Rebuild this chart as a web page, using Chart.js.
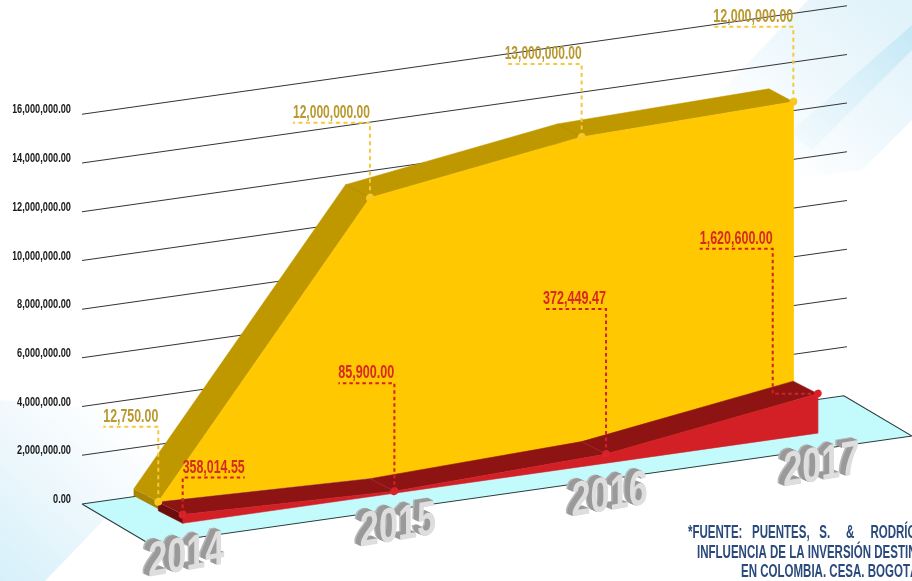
<!DOCTYPE html>
<html><head><meta charset="utf-8">
<style>html,body{margin:0;padding:0;background:#fff;overflow:hidden}canvas{display:block}</style>
<script src="https://cdn.jsdelivr.net/npm/chart.js@4"></script></head>
<body><canvas id="c" width="912" height="581"></canvas>
<script>
const years = [2014, 2015, 2016, 2017];
const yTicks = [0, 2000000, 4000000, 6000000, 8000000, 10000000, 12000000, 14000000, 16000000];
const yellowValues = [12750, 11260000, 12520000, 12730000];
const redValues = [358014.55, 85900, 372449.47, 1620600];
const yellowLabels = ['12,750.00', '12,000,000.00', '13,000,000.00', '12,000,000.00'];
const redLabels = ['358,014.55', '85,900.00', '372,449.47', '1,620,600.00'];
const footnote = ['*FUENTE:   PUENTES,   S.     &     RODRÍGUEZ', 'INFLUENCIA DE LA INVERSIÓN DESTINADA', 'EN COLOMBIA. CESA. BOGOTÁ'];

// Layout of the pseudo-3D drawing (pixels / depth planes)
const SHEAR = -0.142, ORIGIN_X = 82;
const FONT = '"Liberation Sans Narrow","Liberation Sans",sans-serif';
const PLANES = {
  yellowFront: {dx: 0, dv: -362500}, yellowBack: {dx: -0.1153, dv: 313000},
  redFront: {dx: 0.1153, dv: -1379600}, redBack: {dx: 0, dv: -724000}
};
const X_MIN = 2013.6396, X_MAX = 2017.5607, GRID_END = 2017.2532, FLOOR_END = 2017.2390, FLOOR_FRONT_L = 2013.9608, FLOOR_FRONT_R = 2017.5607, FLOOR_DEPTH = -2050000, Y_MIN = -3161000;
const yellowRise = [75, 75, 73, 75], yellowRun = [55, 77, 77, 80];
const redRise = [37, 108, 145, 145], redRun = [-62, 56, 63, 73], redElbow = [0, 0, 0, 45];
const yearFront = 28, yearDrop = 63.5;

const pts = (vals, p) => years.map((yr, i) => ({x: yr + p.dx, y: vals[i] + p.dv}));
const P = PLANES;
const yFront = pts(yellowValues, P.yellowFront), yBack = pts(yellowValues, P.yellowBack);
const rFront = pts(redValues, P.redFront), rBack = pts(redValues, P.redBack);
const poly = (pp, color, extra) => Object.assign({data: pp, fill: 'shape', backgroundColor: color, borderColor: color, borderWidth: 0.5, pointRadius: 0, clip: false}, extra || {});
const seg = (a, b, color) => ({data: [a, b], borderColor: color, borderWidth: 0.7, pointRadius: 0, fill: false, clip: false});
const capDrop = 287000;

const layers = [
  poly([{x: X_MIN, y: 0}, {x: FLOOR_END, y: 0}, {x: FLOOR_FRONT_R, y: FLOOR_DEPTH}, {x: FLOOR_FRONT_L, y: FLOOR_DEPTH}, {x: X_MIN, y: 0}], '#c3fbfd', {borderColor: '#2a3a3a', borderWidth: 1}),
  ...yTicks.slice(1).map(v => ({data: [{x: X_MIN, y: v}, {x: GRID_END, y: v}], borderColor: '#333', borderWidth: 1, pointRadius: 0, fill: false, clip: false})),
  poly([yFront[0], {x: yFront[0].x, y: yFront[0].y - capDrop}, {x: yBack[0].x, y: yBack[0].y - capDrop}, yBack[0]], '#a88400'),
  poly([...yFront, ...yBack.slice().reverse()], '#bf9800'),
  seg(yFront[1], yBack[1], '#ad8a00'), seg(yFront[2], yBack[2], '#ad8a00'),
  poly([...yFront, {x: 2017, y: -800000 + P.yellowFront.dv}, yFront[0]], '#ffc800'),
  poly([...rFront, ...rBack.slice().reverse()], '#8e1414'),
  seg(rFront[1], rBack[1], '#a53030'), seg(rFront[2], rBack[2], '#a53030'),
  poly([rFront[0], {x: rFront[0].x, y: P.redFront.dv}, {x: rBack[0].x, y: P.redBack.dv}, rBack[0]], '#6e0b0b'),
  poly([...rFront, {x: years[3] + P.redFront.dx, y: P.redFront.dv}, {x: years[0] + P.redFront.dx, y: P.redFront.dv}], '#d32027'),
  {data: yFront, borderWidth: 0, borderColor: 'transparent', showLine: false, pointRadius: 4, pointBackgroundColor: '#fbc61c', pointBorderWidth: 0, clip: false},
  {data: rFront, borderWidth: 0, borderColor: 'transparent', showLine: false, pointRadius: 4, pointBackgroundColor: '#d92229', pointBorderWidth: 0, clip: false}
];
layers.forEach((d, i) => { d.order = layers.length - i; });

function bandPoly(ctx, pp, fill) {
  ctx.beginPath(); pp.forEach((p, i) => i ? ctx.lineTo(p[0], p[1]) : ctx.moveTo(p[0], p[1])); ctx.closePath();
  ctx.fillStyle = fill; ctx.fill();
}
function lin(ctx, x0, y0, x1, y1, stops) {
  const g = ctx.createLinearGradient(x0, y0, x1, y1); stops.forEach(s => g.addColorStop(s[0], s[1])); return g;
}
function scaledText(ctx, str, x, y, font, color, sx, align) {
  ctx.save(); ctx.translate(x, y); ctx.scale(sx, 1); ctx.font = font; ctx.fillStyle = color; ctx.textAlign = align; ctx.textBaseline = 'middle';
  ctx.fillText(str, 0, 0); ctx.restore();
}
const scr = (chart, x, v) => { const px = chart.scales.x.getPixelForValue(x); return [px, chart.scales.y.getPixelForValue(v) + SHEAR * (px - ORIGIN_X)]; };

const look = {
  id: 'look',
  beforeDraw(chart) {
    const ctx = chart.ctx;
    ctx.save();
    bandPoly(ctx, [[0, 400], [0, 581], [45, 581], [195, 425], [120, 410]], lin(ctx, 0, 581, 135, 430, [[0, '#d6f0fa'], [0.55, '#eef8fc'], [1, '#ffffff']]));
    bandPoly(ctx, [[808, 0], [912, 0], [912, 120], [862, 170], [800, 178], [722, 90]], lin(ctx, 905, 10, 775, 160, [[0, '#e0f2fa'], [0.6, '#f0f9fd'], [1, '#ffffff']]));
    bandPoly(ctx, [[912, 25], [912, 50], [812, 150], [790, 132]], lin(ctx, 912, 35, 795, 145, [[0, '#c6e9f7'], [0.5, '#def2fa'], [1, '#f3fafd']]));
    ctx.restore();
    // tick labels of the y axis: condensed and lifted slightly off the line
    ctx.save(); ctx.translate(71, -4.5); ctx.scale(0.71, 1); ctx.translate(-82, 0);
  },
  beforeDatasetsDraw(chart) {
    const ctx = chart.ctx;
    ctx.restore();
    ctx.save(); ctx.transform(1, SHEAR, 0, 1, 0, -SHEAR * ORIGIN_X);
  },
  afterDatasetsDraw(chart) {
    const ctx = chart.ctx;
    ctx.restore();
    // callouts
    const callout = (front, labels, rise, run, elbow, color, dash, txt) => {
      front.forEach((p, i) => {
        const [px, py] = scr(chart, p.x, p.y);
        const vx = px - (elbow ? elbow[i] : 0), top = py - rise[i], end = vx - run[i];
        ctx.save(); ctx.strokeStyle = color; ctx.lineWidth = 2; ctx.setLineDash(dash);
        ctx.beginPath(); ctx.moveTo(px, py); ctx.lineTo(vx, py); ctx.lineTo(vx, top); ctx.lineTo(end, top); ctx.stroke(); ctx.restore();
        ctx.save(); ctx.translate((vx + end) / 2, top - 10);
        ctx.font = 'bold 18px ' + FONT; ctx.fillStyle = txt; ctx.textAlign = 'center'; ctx.textBaseline = 'middle';
        const w = ctx.measureText(labels[i]).width; ctx.scale(Math.abs(run[i]) / w, 1);
        ctx.fillText(labels[i], 0, 0); ctx.restore();
      });
    };
    callout(yFront, yellowLabels, yellowRise, yellowRun, null, '#f6c93a', [4, 3.5], '#b9982f');
    callout(rFront, redLabels, redRise, redRun, redElbow, '#d3212a', [3.5, 3], '#d8291f');
    // 3D year labels
    years.forEach(yr => {
      const [px, py] = scr(chart, yr, 0);
      ctx.save();
      ctx.translate(px + yearFront, py + yearDrop);
      ctx.transform(1, SHEAR * 1.2, 0, 1, 0, 0);
      ctx.scale(0.7, 1);
      ctx.font = 'bold 49px ' + FONT; ctx.textAlign = 'center'; ctx.textBaseline = 'middle';
      for (let k = 9; k >= 1; k--) { ctx.fillStyle = k > 7 ? '#b8b8b8' : '#9a9a9a'; ctx.fillText(String(yr), -k * 1.05, -k * 0.45); }
      ctx.fillStyle = '#dedede'; ctx.fillText(String(yr), 0, 0);
      ctx.restore();
    });
    // source note
    const f = 'bold 18px ' + FONT, navy = '#2a4a7c';
    scaledText(ctx, footnote[0], 688, 533, f, navy, 0.64, 'left');
    scaledText(ctx, footnote[1], 697, 553, f, navy, 0.64, 'left');
    scaledText(ctx, footnote[2], 741, 572, f, navy, 0.64, 'left');
  }
};

new Chart(document.getElementById('c'), {
  type: 'line',
  data: {datasets: layers},
  options: {
    responsive: false, animation: false, events: [],
    layout: {autoPadding: false, padding: {left: 0, right: 0, top: 114.3, bottom: 0}},
    plugins: {legend: {display: false}, tooltip: {enabled: false}},
    scales: {
      x: {type: 'linear', min: X_MIN, max: X_MAX, display: false},
      y: {type: 'linear', min: Y_MIN, max: 16000000, afterFit(s) { s.width = 82; s.paddingTop = 0; s.paddingBottom = 0; },
        afterBuildTicks(s) { s.ticks = yTicks.map(value => ({value})); },
        grid: {display: false, drawTicks: false}, border: {display: false},
        ticks: {padding: 0, color: '#1a1a1a', font: {family: FONT, size: 13, weight: 'bold'},
          callback: v => v.toLocaleString('en-US', {minimumFractionDigits: 2, maximumFractionDigits: 2})}}
    }
  },
  plugins: [look]
});
</script></body></html>
